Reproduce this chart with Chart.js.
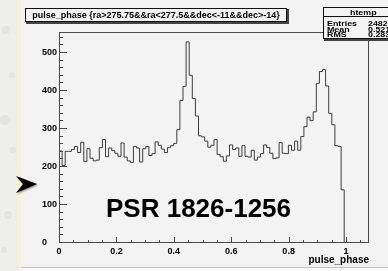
<!DOCTYPE html>
<html>
<head>
<meta charset="utf-8">
<script src="https://cdn.jsdelivr.net/npm/chart.js@4.4.1/dist/chart.umd.min.js"></script>
<style>
html, body { margin: 0; padding: 0; background: #f8f8f8; overflow: hidden; }
canvas { display: block; }
</style>
</head>
<body>
<canvas id="phase-chart" width="388" height="271"></canvas>
<script>
// pulse_phase histogram: 100 equal bins from binLow to binHigh
const binLow = 0;
const binHigh = 1.08;
const counts = [
    270, 242, 204, 241, 241, 246, 254, 238, 265, 214,
    248, 223, 216, 218, 251, 272, 227, 250, 243, 236,
    228, 263, 226, 216, 212, 254, 250, 213, 248, 254,
    230, 235, 266, 257, 247, 238, 251, 256, 262, 298,
    375, 412, 529, 441, 380, 334, 282, 279, 268, 252,
    257, 272, 233, 227, 215, 229, 258, 246, 250, 228,
    256, 228, 226, 244, 218, 226, 235, 258, 251, 236,
    222, 224, 264, 236, 235, 257, 244, 268, 244, 280,
    306, 331, 322, 345, 420, 451, 456, 413, 341, 311,
    256, 254, 140, 0, 0, 0, 0, 0, 0, 0,
];
const xTicks = [0, 0.2, 0.4, 0.6, 0.8, 1];
const yTicks = [0, 100, 200, 300, 400, 500];
const yMax = 555;
const histTitle = 'pulse_phase {ra>275.75&&ra<277.5&&dec<-11&&dec>-14}';
const statsName = 'htemp';
const statsRows = [['Entries', '24820'], ['Mean', '0.5213'], ['RMS', '0.2837']];
const xTitle = 'pulse_phase';
const sourceLabel = 'PSR 1826-1256';

const FONT = "'Liberation Sans', Arial, Helvetica, sans-serif";
const PAD = '#f3f3f3';

const binWidth = (binHigh - binLow) / counts.length;
const steps = counts.map((c, i) => ({ x: binLow + i * binWidth, y: c }));
steps.push({ x: binHigh, y: counts[counts.length - 1] });

const boxWithShadow = (ctx, x, y, w, h) => {
    ctx.fillStyle = '#444';
    ctx.fillRect(x + 1, y + 1, w + 1, h + 1);
    ctx.fillStyle = PAD;
    ctx.fillRect(x, y, w, h);
    ctx.strokeStyle = '#111';
    ctx.lineWidth = 1;
    ctx.strokeRect(x + 0.5, y + 0.5, w - 1, h - 1);
};

// ROOT's small text comes out wide and short, so stretch it a bit
const wideText = (ctx, text, x, y, stretch) => {
    ctx.save();
    ctx.translate(x, y);
    ctx.scale(stretch, 1);
    ctx.fillText(text, 0, 0);
    ctx.restore();
};

const backdrop = {
    id: 'backdrop',
    beforeDraw(chart) {
        const { ctx, width, height } = chart;
        ctx.save();
        // slide background on the left
        ctx.fillStyle = '#eeeeec';
        ctx.fillRect(0, 0, 19, height);
        ctx.fillStyle = 'rgba(205,205,205,0.35)';
        [[6, 30, 4], [12, 75, 3], [5, 120, 5], [13, 150, 3], [8, 215, 4], [4, 250, 3]].forEach(([cx, cy, r]) => {
            ctx.beginPath();
            ctx.arc(cx, cy, r, 0, Math.PI * 2);
            ctx.fill();
        });
        ctx.fillStyle = '#f8f2c8';
        ctx.fillRect(18, 0, 3, 267);
        // canvas pad
        ctx.fillStyle = PAD;
        ctx.fillRect(21, 0, width - 21, 267);
        ctx.fillStyle = '#c4c4c4';
        ctx.fillRect(21, 267, width - 21, 1);
        ctx.fillStyle = '#f9f9f9';
        ctx.fillRect(19, 268, width - 19, height - 268);
        ctx.restore();
    },
    afterDatasetsDraw(chart) {
        const { ctx, chartArea: a, scales } = chart;
        ctx.save();
        ctx.strokeStyle = '#4a4a4a';
        ctx.lineWidth = 1;
        ctx.strokeRect(a.left + 0.5, a.top + 0.5, a.right - a.left - 1, a.bottom - a.top - 1);

        const yTick = (v, len) => {
            const p = Math.round(scales.y.getPixelForValue(v)) - 0.5;
            ctx.beginPath();
            ctx.moveTo(a.left, p);
            ctx.lineTo(a.left + len, p);
            ctx.stroke();
        };
        const xTick = (v, len) => {
            const p = Math.round(scales.x.getPixelForValue(v)) + 0.5;
            ctx.beginPath();
            ctx.moveTo(p, a.bottom);
            ctx.lineTo(p, a.bottom - len);
            ctx.stroke();
        };
        for (let v = 0; v < yMax; v += 20) yTick(v, yTicks.includes(v) ? 8 : 4);
        for (let k = 0; k * 0.05 < binHigh; k++) xTick(k * 0.05, k % 4 === 0 ? 6 : 3);

        // histogram title
        boxWithShadow(ctx, 25, 8, 262, 14);
        ctx.fillStyle = '#000';
        ctx.font = `bold 9px ${FONT}`;
        ctx.textAlign = 'center';
        ctx.textBaseline = 'middle';
        ctx.fillText(histTitle, 156, 15.5);

        // stats box
        boxWithShadow(ctx, 323, 7, 82, 32);
        ctx.fillStyle = '#111';
        ctx.fillRect(323, 16, 82, 1);
        ctx.fillStyle = '#000';
        ctx.font = `bold 7.5px ${FONT}`;
        ctx.textAlign = 'left';
        ctx.textBaseline = 'alphabetic';
        wideText(ctx, statsName, 350, 15, 1.18);
        statsRows.forEach(([k, v], i) => {
            const y = 26 + i * 5.7;
            wideText(ctx, k, 327, y, 1.18);
            wideText(ctx, v, 368, y, 1.18);
        });

        // big label
        ctx.font = `bold 26px ${FONT}`;
        ctx.fillText(sourceLabel, 106, 217);

        // slide arrow
        ctx.shadowColor = 'rgba(0,0,0,0.45)';
        ctx.shadowBlur = 2;
        ctx.shadowOffsetX = 1;
        ctx.shadowOffsetY = 1;
        ctx.fillStyle = '#000';
        ctx.beginPath();
        ctx.moveTo(37, 184);
        ctx.lineTo(16, 176);
        ctx.lineTo(23, 184);
        ctx.lineTo(16, 193);
        ctx.closePath();
        ctx.fill();
        ctx.restore();
    },
};

new Chart(document.getElementById('phase-chart'), {
    type: 'line',
    data: {
        datasets: [{
            data: steps,
            stepped: 'after',
            borderColor: '#3c3c3c',
            borderWidth: 1,
            pointRadius: 0,
            fill: false,
        }],
    },
    options: {
        responsive: false,
        devicePixelRatio: 1,
        animation: false,
        events: [],
        layout: { padding: { left: 21, top: 32, right: 19, bottom: 0 } },
        plugins: { legend: { display: false }, tooltip: { enabled: false }, title: { display: false } },
        scales: {
            x: {
                type: 'linear',
                min: binLow,
                max: binHigh,
                grid: { display: false, drawTicks: false },
                border: { display: false },
                afterBuildTicks: (s) => { s.ticks = xTicks.map((v) => ({ value: v })); },
                afterFit: (s) => { s.height = 28; },
                ticks: {
                    autoSkip: false,
                    maxRotation: 0,
                    padding: 3,
                    color: '#000',
                    font: { family: FONT, size: 9, weight: 'bold' },
                    callback: (v) => String(v),
                },
                title: {
                    display: true,
                    text: xTitle,
                    align: 'end',
                    color: '#000',
                    font: { family: FONT, size: 10, weight: 'bold' },
                    padding: { top: 0, bottom: 5 },
                },
            },
            y: {
                min: 0,
                max: yMax,
                grid: { display: false, drawTicks: false },
                border: { display: false },
                afterBuildTicks: (s) => { s.ticks = yTicks.map((v) => ({ value: v })); },
                afterFit: (s) => { s.width = 38; },
                ticks: {
                    autoSkip: false,
                    padding: 2,
                    color: '#000',
                    font: { family: FONT, size: 9, weight: 'bold' },
                    callback: (v) => (v === 0 ? '0\u2007\u2007' : String(v)),
                },
            },
        },
    },
    plugins: [backdrop],
});
</script>
</body>
</html>
